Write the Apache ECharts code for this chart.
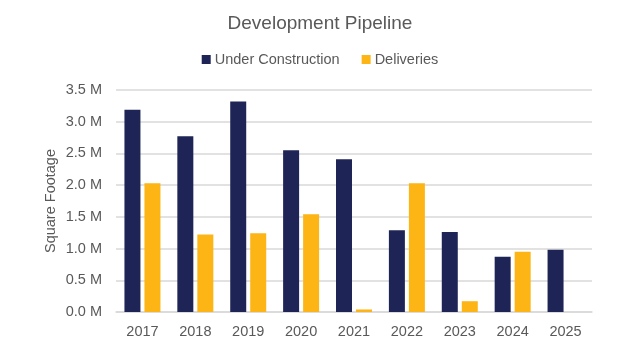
<!DOCTYPE html>
<html>
<head>
<meta charset="utf-8">
<script src="https://cdn.jsdelivr.net/npm/echarts@6/dist/echarts.min.js"></script>
<style>
  html, body { margin: 0; padding: 0; background: #fff; }
  #chart { width: 640px; height: 348px; }
</style>
</head>
<body>
<div id="chart"></div>
<script>
// Development pipeline, square footage in millions
const years = ['2017', '2018', '2019', '2020', '2021', '2022', '2023', '2024', '2025'];
const underConstruction = [3.19, 2.77, 3.32, 2.55, 2.41, 1.29, 1.26, 0.87, 0.98];
const deliveries = [2.03, 1.22, 1.24, 1.54, 0.04, 2.03, 0.17, 0.95, null];

const textColor = '#595959';
const fontFamily = '"Liberation Sans", Arial, sans-serif';
const labelSize = 14.5;

const chart = echarts.init(document.getElementById('chart'), null, { renderer: 'canvas' });
chart.setOption({
  animation: false,
  backgroundColor: '#ffffff',
  textStyle: { fontFamily },
  title: {
    text: 'Development Pipeline',
    left: 'center',
    top: 9,
    textStyle: { color: textColor, fontSize: 19, fontWeight: 'normal', fontFamily }
  },
  legend: {
    top: 47,
    left: 'center',
    itemWidth: 9,
    itemHeight: 9,
    itemGap: 22,
    icon: 'rect',
    textStyle: { color: textColor, fontSize: labelSize, fontFamily, padding: [0, 0, 0, -1] },
    data: ['Under Construction', 'Deliveries']
  },
  grid: { left: 116, right: 48, top: 90, bottom: 36, containLabel: false },
  xAxis: {
    type: 'category',
    data: years,
    axisTick: { show: false },
    axisLine: { lineStyle: { color: '#d9d9d9', width: 1.5 } },
    axisLabel: { color: textColor, fontSize: labelSize, margin: 12, fontFamily }
  },
  yAxis: {
    type: 'value',
    min: 0,
    max: 3.5,
    interval: 0.5,
    name: 'Square Footage',
    nameLocation: 'middle',
    nameGap: 58,
    nameMoveOverlap: false,
    nameTextStyle: { color: textColor, fontSize: labelSize, fontFamily },
    axisLine: { show: false },
    axisTick: { show: false },
    splitLine: { lineStyle: { color: '#d9d9d9', width: 1.5 } },
    axisLabel: {
      color: textColor,
      fontSize: labelSize,
      margin: 14,
      fontFamily,
      formatter: v => v.toFixed(1) + ' M'
    }
  },
  series: [
    {
      name: 'Under Construction',
      type: 'bar',
      data: underConstruction,
      barWidth: 16,
      barGap: '25%',
      itemStyle: { color: '#1f2456' }
    },
    {
      name: 'Deliveries',
      type: 'bar',
      data: deliveries,
      barWidth: 16,
      itemStyle: { color: '#fdb515' }
    }
  ]
});
</script>
</body>
</html>
